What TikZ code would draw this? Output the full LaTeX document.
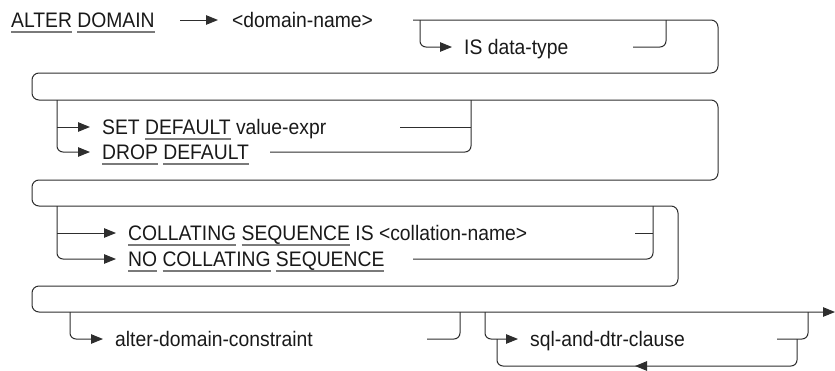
\documentclass[tikz,border=0pt]{standalone}
\usepackage{fontspec}
\setmainfont{Liberation Sans}[FakeStretch=0.92]
\usetikzlibrary{arrows.meta}
\definecolor{railgray}{HTML}{2E2E2E}
\definecolor{ulgray}{HTML}{7A7A7A}
% keyword with its own grey underline
\newcommand\kw[1]{\setbox0\hbox{#1}\rlap{\color{ulgray}\rule[-5.5pt]{\wd0}{1.6pt}}\box0\relax}
\tikzset{
  rail/.style={draw=railgray, line width=1pt, rounded corners=6pt},
  railtip/.style={rail, -{Triangle[length=12pt,width=9.5pt]}},
  word/.style={anchor=west, inner sep=0pt, text height=15pt, text depth=0pt,
    text=black!90, font=\fontsize{21}{24}\selectfont},
}
\begin{document}
\begin{tikzpicture}[x=1pt, y=-1pt]
        \useasboundingbox (0,0) rectangle (835,370);
        % 1. ALTER DOMAIN <domain-name> [IS data-type]
        \node[word] (alter) at (11,20) {\kw{ALTER} \kw{DOMAIN}};
        \node[word] (dname) at (232,20) {<domain-name>};
        \draw[railtip] (180,20) -- ([xshift=-14pt]dname.west);
        \node[word] (istype) at (464,47) {IS data-type};
        \draw[railtip] (420,20) |- ([xshift=-12pt]istype.west);
        \draw[rail] (633,47) -| (666,20);
        
        % 2. Duong ray chinh, gap ba lan
        \draw[railtip, rounded corners=7pt] (413,20) -- (718,20) -- (718,73) -- (32,73)
            -- (32,100) -- (718,100) -- (718,180) -- (32,180)
            -- (32,206) -- (678,206) -- (678,286) -- (32,286)
            -- (32,312) -- (835,312);
        
        % 3. SET DEFAULT / DROP DEFAULT
        \node[word] (setdef) at (102,127) {SET \kw{DEFAULT} value-expr};
        \node[word] (dropdef) at (102,152) {\kw{DROP} \kw{DEFAULT}};
        \draw[railtip] (57,100) |- ([xshift=-12pt]dropdef.west);
        \draw[railtip] (57,127) -- ([xshift=-12pt]setdef.west);
        \draw[rail] (400,127) -- (471,127);
        \draw[rail] (270,152) -| (471,100);
        
        % 4. COLLATING SEQUENCE
        \node[word] (collseq) at (128,233) {\kw{COLLATING} \kw{SEQUENCE} IS <collation-name>};
        \node[word] (nocoll) at (128,259) {\kw{NO} \kw{COLLATING} \kw{SEQUENCE}};
        \draw[railtip] (57,206) |- ([xshift=-12pt]nocoll.west);
        \draw[railtip] (57,233) -- ([xshift=-12pt]collseq.west);
        \draw[rail] (635,233) -- (653,233);
        \draw[rail] (413,259) -| (653,206);
        
        % 5. alter-domain-constraint, sql-and-dtr-clause (lap lai)
        \node[word] (adc) at (115,339) {alter-domain-constraint};
        \draw[railtip] (70,312) |- ([xshift=-12pt]adc.west);
        \draw[rail] (427,339) -| (460,312);
        \node[word] (sqldtr) at (530,339) {sql-and-dtr-clause};
        \draw[railtip] (485,312) |- ([xshift=-12pt]sqldtr.west);
        \draw[rail] (777,339) -| (808,312);
        \draw[railtip] (797,339) |- (635,366);
        \draw[rail] (640,366) -| (497,339);
        
    \end{tikzpicture}
\end{document}
